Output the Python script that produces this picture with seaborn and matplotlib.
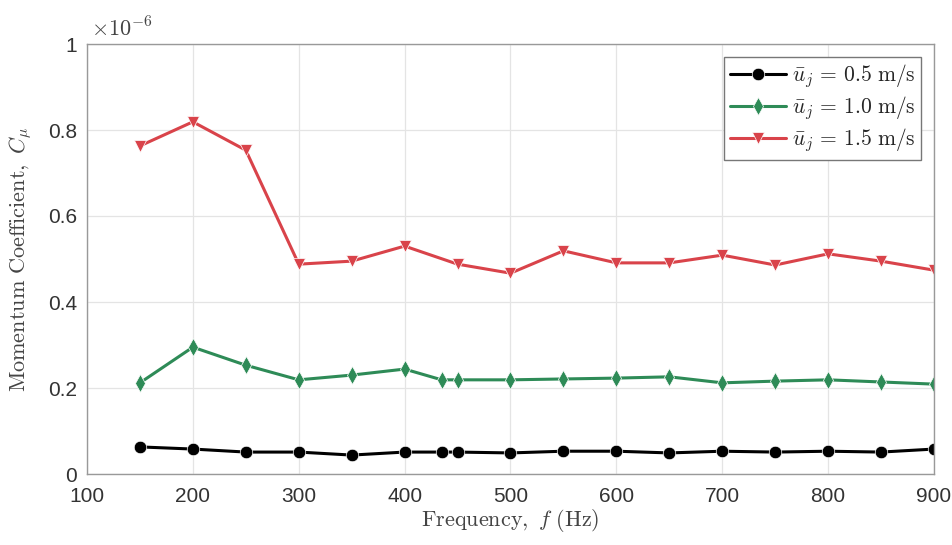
import numpy as np
import pandas as pd
import matplotlib
matplotlib.use("Agg")
import matplotlib.pyplot as plt
import seaborn as sns
from matplotlib.ticker import FuncFormatter

freq = [150, 200, 250, 300, 350, 400, 435, 450, 500, 550, 600, 650, 700, 750, 800, 850, 900]
cmu_05 = [0.063, 0.058, 0.051, 0.051, 0.044, 0.051, 0.051, 0.051, 0.049, 0.053, 0.053, 0.049, 0.053, 0.051, 0.053, 0.051, 0.058]
cmu_10 = [0.212, 0.295, 0.253, 0.219, 0.230, 0.244, 0.219, 0.219, 0.219, 0.221, 0.223, 0.226, 0.212, 0.216, 0.219, 0.214, 0.209]
freq_15 = [150, 200, 250, 300, 350, 400, 450, 500, 550, 600, 650, 700, 750, 800, 850, 900]
cmu_15 = [0.763, 0.819, 0.753, 0.488, 0.495, 0.530, 0.488, 0.467, 0.519, 0.491, 0.491, 0.509, 0.486, 0.512, 0.495, 0.474]
scale = 1e-6

labels = [r'$\bar{u}_j\,=\,0.5\ \mathrm{m/s}$', r'$\bar{u}_j\,=\,1.0\ \mathrm{m/s}$', r'$\bar{u}_j\,=\,1.5\ \mathrm{m/s}$']
colors = ['#000000', '#2E8B57', '#D9434A']
markers = ['o', 'd', 'v']

df = pd.concat([
    pd.DataFrame({'f': freq, 'cmu': np.array(cmu_05) * scale, 'series': labels[0]}),
    pd.DataFrame({'f': freq, 'cmu': np.array(cmu_10) * scale, 'series': labels[1]}),
    pd.DataFrame({'f': freq_15, 'cmu': np.array(cmu_15) * scale, 'series': labels[2]}),
])

sns.set_style('white')
plt.rcParams['mathtext.fontset'] = 'cm'
plt.rcParams['font.family'] = ['Liberation Sans', 'DejaVu Sans']

fig = plt.figure(figsize=(9.53, 5.45), dpi=100)
ax = fig.add_axes([87/953, 71/545, 847/953, 430/545])

sns.lineplot(data=df, x='f', y='cmu', hue='series', style='series',
             palette=dict(zip(labels, colors)), markers=dict(zip(labels, markers)),
             dashes=False, linewidth=2.2, markersize=9, markeredgewidth=0.5, ax=ax)

ax.set_xlim(100, 900)
ax.set_ylim(0, 1e-6)
ax.set_xticks(np.arange(100, 901, 100))
ax.set_yticks(np.arange(0, 1.01, 0.2) * scale)
ax.yaxis.set_major_formatter(FuncFormatter(lambda v, p: f'{v/scale:g}'))
ax.tick_params(axis='both', labelsize=15, colors='#333333', length=4, direction='in')
ax.tick_params(axis='x', pad=9)
ax.tick_params(axis='y', pad=7)
ax.grid(True, color='#e4e4e4', linewidth=0.9)
for s in ax.spines.values():
    s.set_color('#999999')
    s.set_linewidth(1.0)

ax.text(0.005, 1.005, r'$\times 10^{-6}$', transform=ax.transAxes, fontsize=16, color='#444444',
        ha='left', va='bottom')

ax.set_xlabel(r'$\mathrm{Frequency,}\ f\ \mathrm{(Hz)}$', fontsize=16, color='#444444', labelpad=1)
ax.set_ylabel(r'$\mathrm{Momentum\ Coefficient,}\ C_\mu$', fontsize=16, color='#444444', labelpad=10)

leg = ax.legend(loc='upper right', fontsize=15.5, frameon=True, fancybox=False,
                edgecolor='#777777', framealpha=1, handlelength=2.6, borderpad=0.25,
                labelspacing=0.2, handletextpad=0.3, borderaxespad=0.6)
leg.get_frame().set_linewidth(1.0)

fig.savefig('out.png', dpi=100)
